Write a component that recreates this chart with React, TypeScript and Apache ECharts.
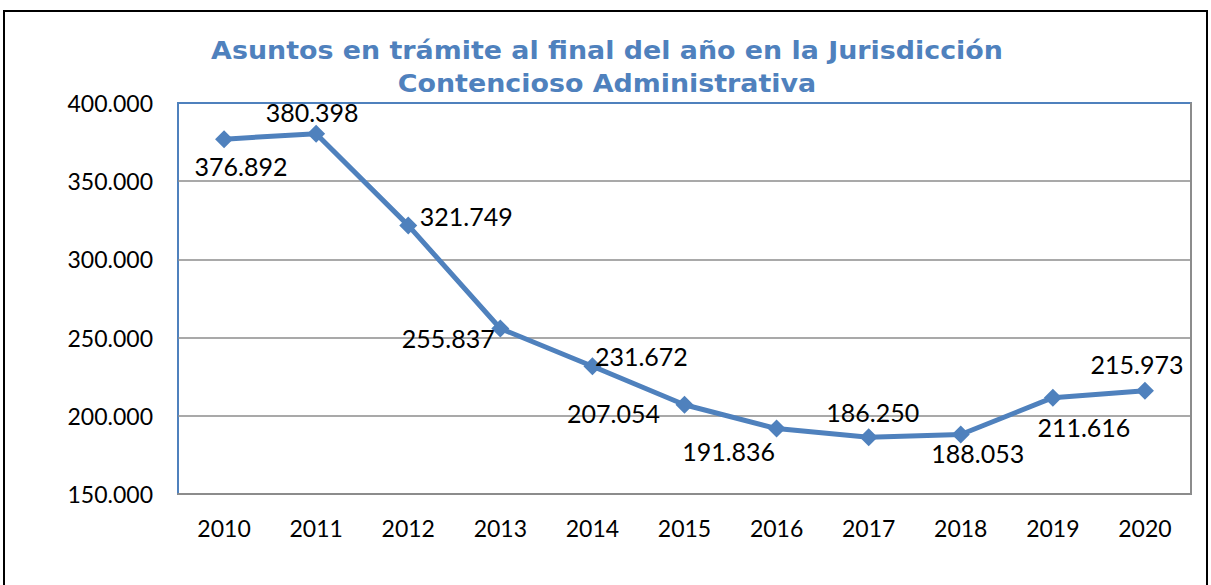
import React, { useEffect, useRef } from "react";
import * as echarts from "echarts";

const years = ["2010", "2011", "2012", "2013", "2014", "2015", "2016", "2017", "2018", "2019", "2020"];
const asuntos = [376892, 380398, 321749, 255837, 231672, 207054, 191836, 186250, 188053, 211616, 215973];
const yMin = 150000;
const yMax = 400000;
const yStep = 50000;
const titleLines = ["Asuntos en trámite al final del año en la Jurisdicción", "Contencioso Administrativa"];

// label placement (style only): offset of each value label from its point
const labelOffsets: [number, number][] = [
  [17, 27], [-4, -22], [58, -9], [-52, 10], [49, -10], [-71, 8],
  [-48, 22], [4, -25], [17, 19], [31, 29], [-8, -27],
];

const fmt = (v: number) => String(v).replace(/\B(?=(\d{3})+(?!\d))/g, ".");

const BLUE = "#4F81BD";
const GRAY = "#8C8C8C";
const FONT = "Lato";

export default function App() {
  const ref = useRef<HTMLDivElement>(null);
  useEffect(() => {
    if (!ref.current) return;
    const chart = echarts.init(ref.current, undefined, { renderer: "svg" });
    chart.setOption({
      animation: false,
      backgroundColor: "#fff",
      graphic: [
        {
          type: "rect",
          shape: { x: 4, y: 11, width: 1203, height: 620 },
          style: { fill: "none", stroke: "#000", lineWidth: 2 },
          silent: true,
        },
        ...titleLines.map((t, i) => ({
          type: "text",
          x: 607,
          y: 51 + i * 32.5,
          scaleX: 1.12,
          silent: true,
          style: {
            text: t,
            fill: BLUE,
            font: "bold 24px 'DejaVu Sans'",
            textAlign: "center",
            textVerticalAlign: "middle",
          },
        })),
      ],
      grid: {
        left: 178,
        top: 103,
        right: 20,
        bottom: 91,
        show: true,
        borderColor: BLUE,
        borderWidth: 2,
        backgroundColor: "transparent",
      },
      xAxis: [
        {
          type: "category",
          data: years,
          boundaryGap: true,
          axisLine: { show: true, lineStyle: { color: GRAY, width: 2 } },
          axisTick: { show: false },
          axisLabel: { fontFamily: FONT, fontSize: 23, color: "#000", margin: 22 },
          splitLine: { show: false },
        },
      ],
      yAxis: [
        {
          type: "value",
          min: yMin,
          max: yMax,
          interval: yStep,
          axisLine: { show: false },
          axisTick: { show: false },
          axisLabel: { formatter: fmt, fontFamily: FONT, fontSize: 23, color: "#000", margin: 25 },
          splitLine: {
            show: true,
            showMinLine: false,
            showMaxLine: false,
            lineStyle: { color: GRAY, width: 1.5 },
          },
        },
        {
          type: "value",
          position: "right",
          min: yMin,
          max: yMax,
          interval: yStep,
          axisLine: { show: true, lineStyle: { color: GRAY, width: 2 } },
          axisTick: { show: false },
          axisLabel: { show: false },
          splitLine: { show: false },
        },
      ],
      series: [
        {
          type: "line",
          yAxisIndex: 0,
          data: asuntos.map((v, i) => ({ value: v, label: { offset: labelOffsets[i] } })),
          color: BLUE,
          lineStyle: { color: BLUE, width: 5 },
          itemStyle: { color: BLUE },
          symbol: "diamond",
          symbolSize: 18,
          label: {
            show: true,
            position: "inside",
            align: "center",
            verticalAlign: "middle",
            formatter: (p: any) => fmt(p.value),
            fontFamily: FONT,
            fontSize: 25,
            color: "#000",
          },
        },
      ],
    });
    return () => chart.dispose();
  }, []);
  return <div ref={ref} style={{ position: "absolute", left: 0, top: 0, width: 1211, height: 585 }} />;
}
